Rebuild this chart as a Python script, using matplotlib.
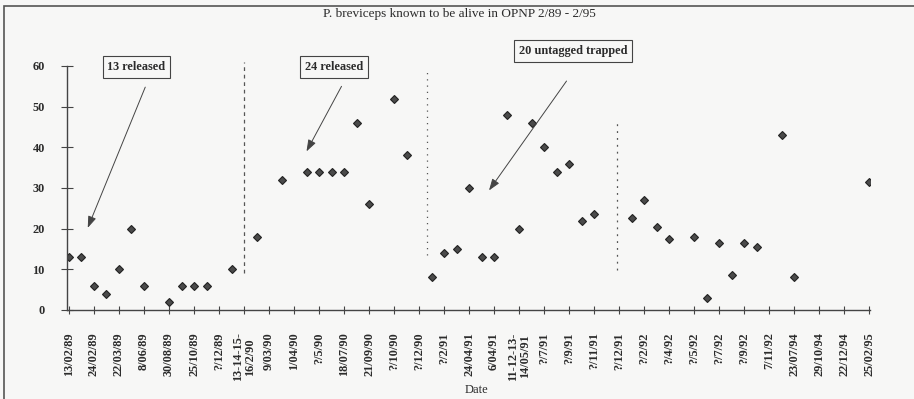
import numpy as np
import matplotlib
matplotlib.use('Agg')
import matplotlib.pyplot as plt
from matplotlib.patches import Rectangle

# survey labels (one label every second sampling occasion)
dateLabels = ['13/02/89', '24/02/89', '22/03/89', '8/06/89', '30/08/89', '25/10/89',
              '?/12/89', '13-14-15-\n16/2/90', '9/03/90', '1/04/90', '?/5/90',
              '18/07/90', '21/09/90', '?/10/90', '?/12/90', '?/2/91', '24/04/91',
              '6/04/91', '11-12-13-\n14/05/91', '?/7/91', '?/9/91', '?/11/91',
              '?/12/91', '?/2/92', '?/4/92', '?/5/92', '?/7/92', '?/9/92',
              '7/11/92', '23/07/94', '29/10/94', '22/12/94', '25/02/95']

# number known alive at each sampling occasion (None = no value)
alive = [13, 13, 6, 4, 10, 20, 6, None, 2, 6, 6, 6, None, 10, None, 18,
         None, 32, None, 34, 34, 34, 34, 46, 26, None, 52, 38, None, 8,
         14, 15, 30, 13, 13, 48, 20, 46, 40, 34, 36, 22, 23.5, None, None, 22.5,
         27, 20.5, 17.5, None, 18, 3, 16.5, 8.5, 16.5, 15.5, None, 43, 8, None,
         None, None, None, None, 31.5]

# events: (label, box position, arrow tail, arrow head)
events = ['13 released', '24 released', '20 untagged trapped']
eventBox = [(5.4, 59.8), (21.2, 59.8), (40.3, 63.6)]
eventTail = [(6.1, 54.8), (21.8, 55.0), (39.8, 56.3)]
eventHead = [(1.5, 20.2), (19.0, 39.0), (33.6, 29.4)]

# period separators: (category, ymin, ymax, style)
breakPos = [14.0, 28.6, 43.8]
breakLo = [9.0, 13.6, 9.9]
breakHi = [61.0, 59.3, 46.4]
breakStyle = [(0, (3, 3)), (0, (1, 4)), (0, (1.5, 4))]

ink = '#2b2b2b'
bg = '#f7f7f6'
serif = 'Liberation Serif'

fig = plt.figure(figsize=(9.14, 3.99), dpi=100, facecolor=bg)
ax = fig.add_axes([0.0733, 0.2231, 0.8786, 0.6115])
ax.set_facecolor(bg)

x = np.arange(len(alive))
y = np.array([np.nan if v is None else v for v in alive], dtype=float)
ax.plot(x, y, linestyle='none', marker='D', markersize=4.4,
        markerfacecolor='#4a4a4a', markeredgecolor='#222222', markeredgewidth=0.8)

for pos, lo, hi, ls in zip(breakPos, breakLo, breakHi, breakStyle):
    ax.plot([pos, pos], [lo, hi], color='#555555', lw=0.9, linestyle=ls, clip_on=False)

for txt, box, tail, head in zip(events, eventBox, eventTail, eventHead):
    ax.annotate('', xy=head, xytext=tail, annotation_clip=False,
                arrowprops=dict(arrowstyle='-|>,head_length=0.7,head_width=0.25',
                                color='#444444', lw=0.7, shrinkA=0, shrinkB=0))
    ax.text(box[0], box[1], txt, ha='center', va='center', fontsize=8.8,
            family=serif, fontweight='bold', color=ink, clip_on=False,
            bbox=dict(boxstyle='square,pad=0.4', facecolor=bg, edgecolor='#444444', lw=0.8))

ax.set_xlim(-0.16, 64.08)
ax.set_ylim(0, 60)
ax.set_xticks(x[::2])
ax.set_xticklabels(dateLabels, rotation=90, fontsize=8.8, family=serif,
                   fontweight='bold', color=ink, linespacing=1.0)
ax.set_yticks(np.arange(0, 61, 10))
ax.set_yticklabels([str(v) for v in range(0, 61, 10)], fontsize=8.8, family=serif,
                   fontweight='bold', color=ink)
ax.tick_params(axis='x', direction='inout', length=6, width=0.8, color='#444444', pad=13)
ax.tick_params(axis='y', direction='inout', length=8, width=0.8, color='#444444', pad=12)

for s in ['top', 'right']:
    ax.spines[s].set_visible(False)
for s in ['left', 'bottom']:
    ax.spines[s].set_color('#444444')
    ax.spines[s].set_linewidth(1.0)

ax.set_xlabel('Date', fontsize=9, family=serif, color=ink, va='center')
ax.xaxis.set_label_coords(0.51, -0.33)

fig.text(0.503, 0.965, 'P. breviceps known to be alive in OPNP 2/89 - 2/95',
         ha='center', va='center', fontsize=9.5, family=serif, color=ink)

# chart-area border
fig.patches.append(Rectangle((0.004, -0.01), 1.2, 0.996, transform=fig.transFigure,
                             fill=False, edgecolor='#555555', lw=1.2))

fig.savefig('out.png', dpi=100, facecolor=bg)
